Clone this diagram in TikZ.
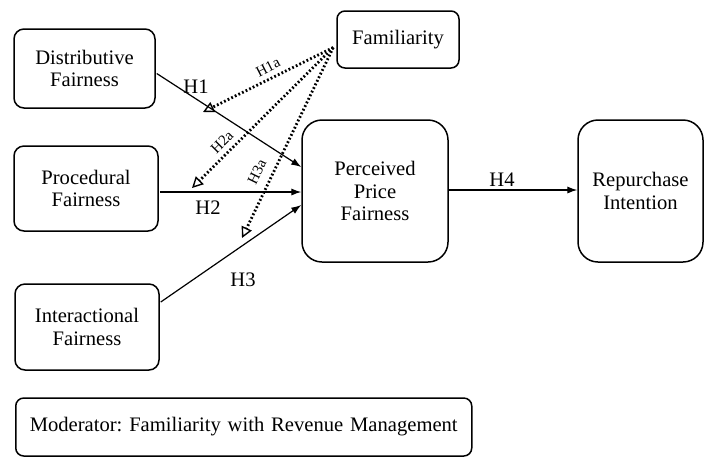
\documentclass[tikz,border=0pt]{standalone}
\usepackage{fontspec}
\setmainfont{Liberation Serif}
\usetikzlibrary{arrows.meta,calc}
\frenchspacing
\begin{document}
\begin{tikzpicture}[x=0.5pt,y=-0.5pt,
  box/.style={draw,line width=0.75pt,inner sep=0pt,align=center,
    font=\fontsize{10.3}{11.3}\selectfont},
  solidarrow/.style={line width=0.6pt,-{Latex[length=5pt,width=3.6pt]}},
  dotarrow/.style={line width=1.4pt,dash pattern=on 0.9pt off 1.1pt,
    -{Triangle[open,length=5.5pt,width=5.5pt,line width=0.7pt]}},
  lab/.style={font=\fontsize{10.3}{11.3}\selectfont,inner sep=0pt},
  smalllab/.style={font=\fontsize{7.5}{8}\selectfont,inner sep=0pt}]
\useasboundingbox (0,0) rectangle (706,457);
% boxes
\node[box,rounded corners=5pt,minimum width=70.5pt,minimum height=39.5pt] (dist) at (84.5,68.5) {Distributive\\Fairness};
\node[box,rounded corners=5pt,minimum width=72pt,minimum height=42.5pt] (proc) at (86,188.5) {Procedural\\Fairness};
\node[box,rounded corners=5pt,minimum width=72pt,minimum height=43pt] (inter) at (87,327) {Interactional\\Fairness};
\node[box,rounded corners=4pt,minimum width=61pt,minimum height=28.5pt] (fam) at (398,39.5) {Familiarity};
\node[box,rounded corners=10pt,minimum width=73pt,minimum height=71pt] (ppf) at (375,191) {Perceived\\Price\\Fairness};
\node[box,rounded corners=10pt,minimum width=62.5pt,minimum height=71pt] (rep) at (640.5,191) {Repurchase\\Intention};
\node[box,rounded corners=4pt,anchor=west,text width=214pt,align=left,inner xsep=7pt,minimum height=29pt] (mod) at (15,427) {Moderator: Familiarity with Revenue Management};
% solid paths
\draw[solidarrow] ($(dist.east)+(1,5)$) -- ($(ppf.west)+(0,-24)$);
\draw[solidarrow] ($(proc.east)+(1,3.5)$) -- ($(ppf.west)+(0,1)$);
\draw[solidarrow] ($(inter.east)+(1,-25)$) -- ($(ppf.west)+(0,14)$);
\draw[solidarrow] ($(ppf.east)+(0,-1)$) -- ($(rep.west)+(0,-1)$);
% moderation (dotted)
\coordinate (fs) at ($(fam.west)+(-3,8)$);
\coordinate (m1) at (203,112);
\coordinate (m2) at (192,188);
\coordinate (m3) at (242,238);
\draw[dotarrow] (fs) -- (m1);
\draw[dotarrow] (fs) -- (m2);
\draw[dotarrow] (fs) -- (m3);
% labels
\node[lab] (l1) at (196,87) {H1};
\node[lab] (l2) at (208,208) {H2};
\node[lab] (l3) at (243,280) {H3};
\node[lab] (l4) at (502,180) {H4};
\node[smalllab,rotate=27] (l1a) at (268,67) {H1a};
\node[smalllab,rotate=45] (l2a) at (222,142) {H2a};
\node[smalllab,rotate=64] (l3a) at (257,172) {H3a};
\end{tikzpicture}
\end{document}
